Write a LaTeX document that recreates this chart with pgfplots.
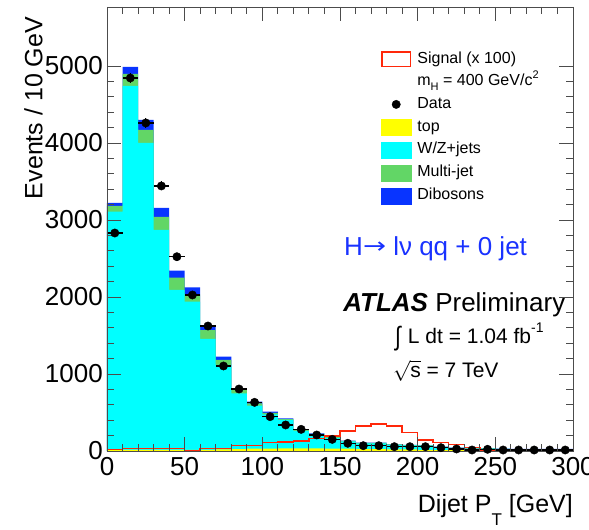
\documentclass[border=0pt]{standalone}
\usepackage{fontspec}
\setmainfont{Liberation Sans}
\newfontfamily\dejavu{DejaVu Sans}
\usepackage{graphicx}
\usepackage{pgfplots}
\usepackage{pgfplotstable}
\pgfplotsset{compat=1.18}
\definecolor{ctop}{RGB}{255,255,0}
\definecolor{cwz}{RGB}{0,255,255}
\definecolor{cmj}{RGB}{98,214,102}
\definecolor{cdb}{RGB}{8,52,255}
\definecolor{csig}{RGB}{255,40,10}
\definecolor{ctext}{RGB}{25,50,255}

% cumulative stack tops per 10 GeV bin (left edge)
\pgfplotstableread{
x ctop cwz cmj cdb sig
0 10 3108 3182 3221 20
10 15 4740 4896 4987 30
20 15 4000 4169 4299 30
30 15 2870 3039 3156 30
40 15 2091 2251 2342 30
50 15 1939 2035 2126 0
60 15 1455 1571 1636 30
70 20 1117 1182 1225 30
80 25 749 801 814 69
90 30 589 620 641 69
100 30 476 495 511 108
110 35 403 415 424 117
120 35 260 272 281 130
130 35 215 222 229 164
140 30 170 180 186 197
150 30 125 130 135 262
160 25 100 105 110 325
170 25 100 105 108 351
180 20 80 85 87 325
190 20 72 76 78 243
200 15 70 72 74 143
210 12 52 54 56 108
220 10 40 42 43 87
230 8 32 34 35 43
240 8 32 34 35 15
250 6 28 29 30 12
260 5 24 25 26 10
270 5 24 25 26 8
280 5 24 25 26 6
290 4 24 25 26 5
300 4 24 25 26 5
}\bkg

\pgfplotstableread{
x y ey
5 2831 53
15 4844 70
25 4260 65
35 3442 59
45 2523 50
55 2026 45
65 1623 40
75 1104 33
85 805 28
95 632 25
105 446 21
115 338 18
125 281 17
135 208 14
145 151 12
155 100 10
165 69 8
175 69 8
185 56 7.5
195 56 7.5
205 56 7.5
215 43 6.6
225 26 5.1
235 13 3.6
245 22 4.7
255 13 3.6
265 13 3.6
275 13 3.6
285 13 3.6
295 13 3.6
}\data

\begin{document}
\begin{tikzpicture}
\begin{axis}[
  at={(0,0)}, anchor=south west, scale only axis,
  width=466pt, height=444pt,
  xmin=0, xmax=300, ymin=0, ymax=5766,
  xtick={0,50,...,300}, ytick={0,1000,...,5000},
  minor x tick num=4, minor y tick num=4,
  tick align=inside, major tick length=14pt, minor tick length=7pt,
  axis on top,
  axis line style={black!70, line width=0.9pt},
  tick style={black!70, line width=0.9pt},
  ticklabel style={font=\fontsize{26}{30}\selectfont, inner sep=0pt},
  xticklabel style={yshift=-6pt},
  yticklabel style={xshift=-4pt},
  /pgf/number format/assume math mode=true,
  /pgf/number format/1000 sep={},
  xlabel={Dijet P\raisebox{-0.5em}{\fontsize{17}{18}\selectfont T} [GeV]},
  ylabel={Events / 10 GeV},
  label style={font=\fontsize{25}{30}\selectfont, inner sep=0pt},
  xlabel style={at={(axis description cs:1,-0.1396)}, anchor=base east},
  ylabel style={at={(axis description cs:-0.158,0.978)}, anchor=east},
  legend style={at={(axis description cs:0.588,0.900)}, anchor=north west,
    draw=none, fill=none, inner sep=0pt, outer sep=0pt,
    row sep=6.5pt, column sep=6pt,
    font=\fontsize{16}{19}\selectfont,
    nodes={inner sep=0pt, text height=12pt, text depth=4pt}},
  legend cell align=left,
]
\addplot[forget plot, const plot mark left, fill=cdb, draw=none] table[x=x, y=cdb]{\bkg} \closedcycle;
\addplot[forget plot, const plot mark left, fill=cmj, draw=none] table[x=x, y=cmj]{\bkg} \closedcycle;
\addplot[forget plot, const plot mark left, fill=cwz, draw=none] table[x=x, y=cwz]{\bkg} \closedcycle;
\addplot[forget plot, const plot mark left, fill=ctop, draw=none] table[x=x, y=ctop]{\bkg} \closedcycle;
\addplot[forget plot, const plot mark left, draw=csig, line width=1.5pt] table[x=x, y=sig]{\bkg};
\addplot[forget plot, only marks, mark=*, mark size=4.2pt, black, mark options={fill=black},
  error bars/.cd, x dir=both, x fixed=5, y dir=both, y explicit, error mark=none,
  error bar style={line width=1.3pt, black}] table[x=x, y=y, y error=ey]{\data};

\addlegendimage{legend image code/.code={\draw[csig, line width=1.5pt] (0.75pt,-7.25pt) rectangle (29.25pt,7.25pt);}}
\addlegendentry{Signal (x 100)}
\addlegendimage{legend image code/.code={\path[draw=none, fill=none] (0pt,0pt) rectangle (30pt,0.1pt);}}
\addlegendentry{m\raisebox{-0.3em}{\fontsize{11}{12}\selectfont H} = 400 GeV/c\raisebox{0.45em}{\fontsize{11}{12}\selectfont 2}}
\addlegendimage{legend image code/.code={\path[draw=none, fill=none] (0pt,0pt) rectangle (30pt,0.1pt); \fill[black] (15pt,0pt) circle (4.2pt);}}
\addlegendentry{Data}
\addlegendimage{legend image code/.code={\fill[ctop] (0pt,-8pt) rectangle (30pt,8pt);}}
\addlegendentry{top}
\addlegendimage{legend image code/.code={\fill[cwz] (0pt,-8pt) rectangle (30pt,8pt);}}
\addlegendentry{W/Z+jets}
\addlegendimage{legend image code/.code={\fill[cmj] (0pt,-8pt) rectangle (30pt,8pt);}}
\addlegendentry{Multi-jet}
\addlegendimage{legend image code/.code={\fill[cdb] (0pt,-8pt) rectangle (30pt,8pt);}}
\addlegendentry{Dibosons}

\node[anchor=base west, inner sep=0pt, text=ctext, font=\fontsize{26}{30}\selectfont] at (axis cs:152.6,2545) {H{\dejavu\fontsize{22}{26}\selectfont\raisebox{0.08em}{\scalebox{1.25}[1]{→}}} lν qq + 0 jet};
\node[anchor=base west, inner sep=0pt, font=\fontsize{26}{30}\selectfont] at (axis cs:152,1818) {\textbf{\textit{ATLAS}} Preliminary};
\node[anchor=base west, inner sep=0pt, font=\fontsize{21}{25}\selectfont] at (axis cs:185.4,1400) {\raisebox{-0.1em}{\scalebox{1}[1.25]{∫}}\hspace{7pt}L dt = 1.04 fb\raisebox{0.5em}{\fontsize{14}{16}\selectfont -1}};
\node[anchor=base west, inner sep=0pt, font=\fontsize{21}{25}\selectfont] at (axis cs:184,955) {$\sqrt{\mbox{s}}$ = 7 TeV};
\end{axis}
\pgfresetboundingbox
\useasboundingbox (-107pt,-79pt) rectangle (482pt,451pt);
\end{tikzpicture}
\end{document}
